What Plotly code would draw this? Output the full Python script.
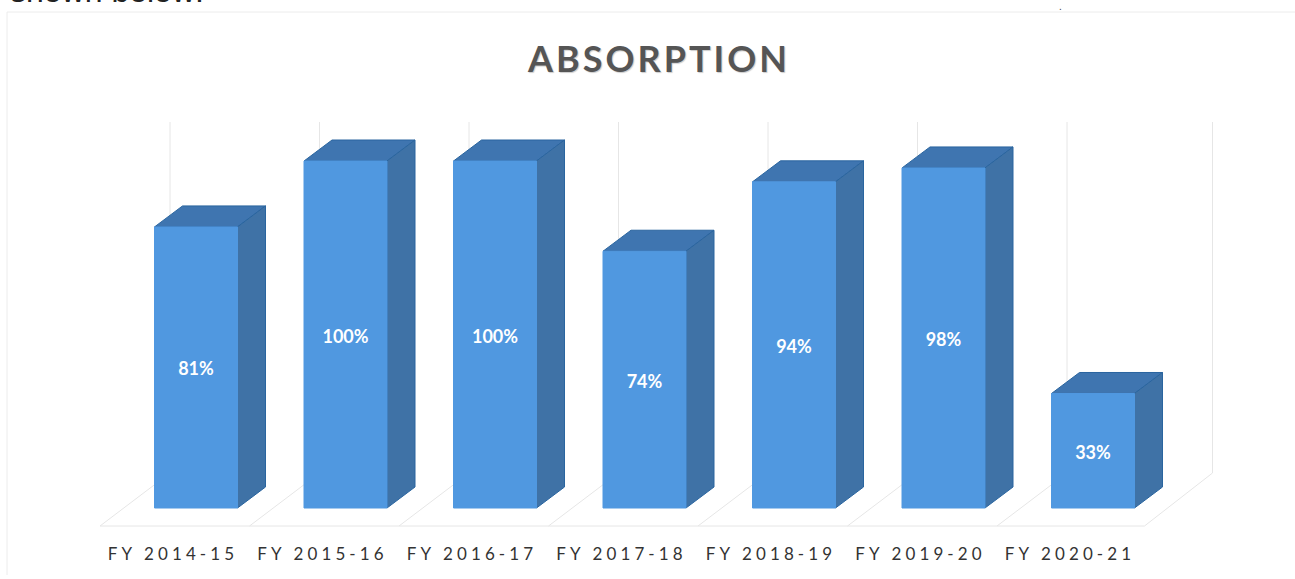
import plotly.graph_objects as go

categories = ["FY 2014-15", "FY 2015-16", "FY 2016-17", "FY 2017-18", "FY 2018-19", "FY 2019-20", "FY 2020-21"]
absorption = [81, 100, 100, 74, 94, 98, 33]
title_text = "ABSORPTION"
clipped_text = "shown below:"

W, H = 1295, 579
BOTTOM = 41
PX_X = 149.5          # pixels per category
PX_Y = 3.47           # pixels per percent
X0_PX, Y0_PX = 196, 508

XR = [-X0_PX / PX_X, (W - X0_PX) / PX_X]
YR = [(Y0_PX - (H - BOTTOM)) / PX_Y, Y0_PX / PX_Y]

HALF = 41.5 / PX_X
DX = 28 / PX_X
DY = 21 / PX_Y
FLOOR_FRONT = -18 / PX_Y
FLOOR_BACK = 35 / PX_Y
WALL_TOP = 386 / PX_Y
FLOOR_LEFT = -96 / PX_X
FLOOR_RUN = 70 / PX_X
LABEL_SHIFT = -23 / PX_X
TEXT_DROP = 3.5 / PX_Y

FRONT, TOP, SIDE, EDGE = "#5098e0", "#3f75b0", "#3f72a6", "#2a659f"
GRID = "#e6e6e6"

fig = go.Figure()


def line(xs, ys, color=GRID, width=1):
    fig.add_trace(go.Scatter(x=xs, y=ys, mode="lines", line=dict(color=color, width=width),
                             hoverinfo="skip", showlegend=False))


def poly(xs, ys, color, edge=None):
    fig.add_trace(go.Scatter(x=xs, y=ys, mode="lines", fill="toself", fillcolor=color,
                             line=dict(color=edge or color, width=1),
                             hoverinfo="skip", showlegend=False))


n = len(categories)
for k in range(n + 1):
    trim = -4 / PX_X if k == n else 0
    front = FLOOR_LEFT + k + (-2 / PX_X if k == n else 0)
    back = FLOOR_LEFT + k + FLOOR_RUN + trim
    line([front, back], [FLOOR_FRONT, FLOOR_BACK])
    line([back, back], [FLOOR_BACK, WALL_TOP])
line([FLOOR_LEFT, FLOOR_LEFT + n - 2 / PX_X], [FLOOR_FRONT, FLOOR_FRONT])

for i, v in enumerate(absorption):
    l, r = i - HALF, i + HALF
    poly([l, r, r + DX, l + DX, l], [v, v, v + DY, v + DY, v], TOP, EDGE)
    poly([r, r + DX, r + DX, r, r], [0, DY, v + DY, v, 0], SIDE, EDGE)
    poly([l, r, r, l, l], [0, 0, v, v, 0], FRONT)

fig.add_trace(go.Scatter(
    x=list(range(n)), y=[v / 2 - TEXT_DROP for v in absorption], mode="text",
    text=[f"{v}%" for v in absorption],
    textfont=dict(family="Lato", size=18, color="white", weight="bold"),
    textposition="middle center", hoverinfo="skip", showlegend=False))

PH = H - BOTTOM
fig.add_annotation(xref="paper", yref="paper", x=658 / W, y=1 - 58 / PH,
                   text=f"<b>{title_text}</b>", showarrow=False, xanchor="center", yanchor="middle",
                   font=dict(family="Lato", size=36, color="#555555"))
fig.add_annotation(xref="paper", yref="paper", x=8 / W, y=1 - 11 / PH,
                   text=clipped_text, showarrow=False, xanchor="left", yanchor="bottom",
                   font=dict(family="Liberation Sans", size=32, color="#222222"))
fig.add_annotation(xref="paper", yref="paper", x=1060 / W, y=1 - 7 / PH,
                   text=".", showarrow=False, xanchor="center", yanchor="middle",
                   font=dict(family="Liberation Sans", size=10, color="#444444"))

# faint page frame of the scan
frame = dict(type="line", xref="paper", yref="paper", line=dict(color="#ececec", width=1))
fig.update_layout(shapes=[
    dict(frame, x0=7 / W, x1=1, y0=1 - 12 / PH, y1=1 - 12 / PH),
    dict(frame, x0=7 / W, x1=7 / W, y0=1 - 12 / PH, y1=1 - 575 / PH),
])

fig.update_layout(
    width=W, height=H, autosize=False, showlegend=False,
    margin=dict(l=0, r=0, t=0, b=BOTTOM),
    paper_bgcolor="white", plot_bgcolor="white",
    xaxis=dict(range=XR, showgrid=False, zeroline=False, showline=False, ticks="outside", ticklen=1,
               tickcolor="rgba(0,0,0,0)",
               tickmode="array", tickvals=[i + LABEL_SHIFT for i in range(n)], ticktext=categories,
               tickfont=dict(family="Lato", size=17, color="#333333"), fixedrange=True),
    yaxis=dict(range=YR, visible=False, fixedrange=True),
)

post = """
document.body.style.margin='0';
document.documentElement.style.overflow='hidden';
document.querySelectorAll('.xtick text').forEach(function(t){t.style.letterSpacing='4.1px';});
document.querySelectorAll('.annotation-text').forEach(function(t){
  if(t.textContent.indexOf('ABSORPTION')>=0){t.style.letterSpacing='3px';t.style.textShadow='1px 1px 1px #cccccc';}
});
"""
fig.write_html("out.html", post_script=post, config={"displayModeBar": False})
